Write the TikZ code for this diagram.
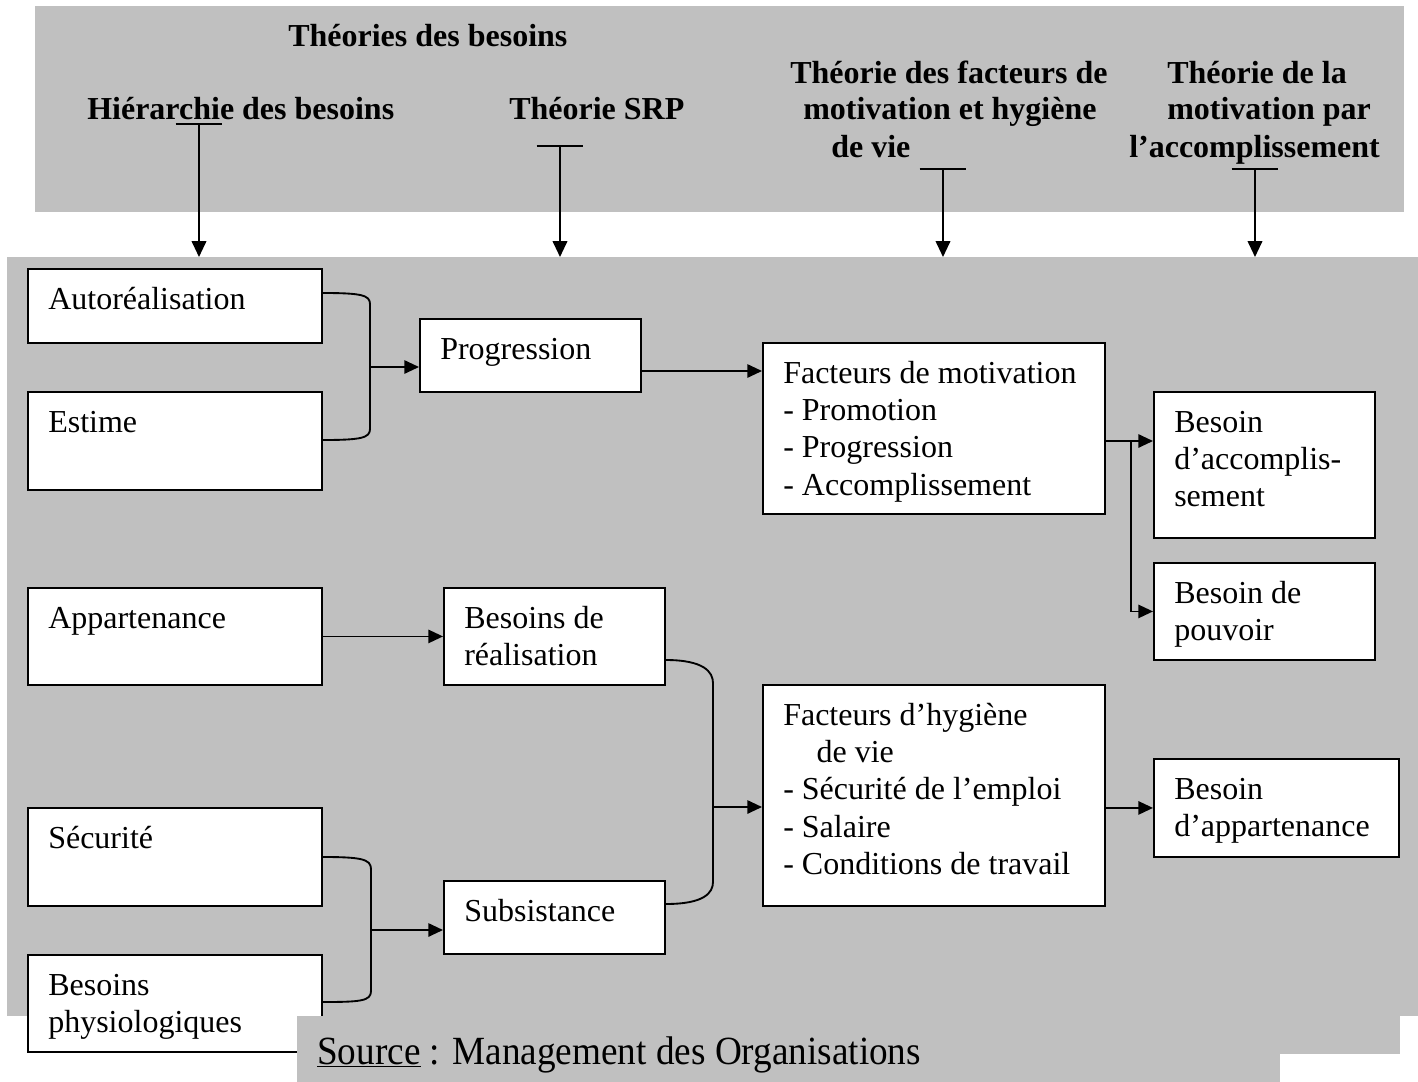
\documentclass[tikz,border=0pt]{standalone}
\usepackage{fontspec}
\setmainfont{Liberation Serif}
\newfontfamily\srcfont[FakeStretch=0.93]{Liberation Serif}
\usetikzlibrary{arrows.meta,calc}
\definecolor{bggray}{RGB}{192,192,192}
\begin{document}
\begin{tikzpicture}[x=0.75pt,y=-0.75pt,
  every node/.style={font=\fontsize{24}{28}\selectfont},
  box/.style 2 args={draw, fill=white, line width=1.4pt, anchor=north west, inner sep=0pt,
    minimum width=#1*0.75pt, minimum height=#2*0.75pt},
  txt/.style={anchor=north west, align=left, inner sep=0pt, xshift=15.75pt, yshift=-11.15pt},
  hdr/.style={anchor=base west, inner sep=0pt, font=\fontsize{24}{28}\selectfont\bfseries},
  conn/.style={line width=1.4pt},
  arr/.style={conn, -{Triangle[length=11pt,width=10pt]}},
  tarr/.style={conn, {Bar[width=35pt]}-{Triangle[length=12pt,width=11pt]}},
]
\useasboundingbox (0,0) rectangle (1418,1082);

% backgrounds
\fill[bggray] (35,6) rectangle (1404,212);
\fill[bggray] (7,257) rectangle (1418,1016);

% header texts
\node[hdr] (h0) at (288,46) {Théories des besoins};
\node[hdr] (h1) at (87,119) {Hiérarchie des besoins};
\node[hdr] (h2) at (509,119) {Théorie SRP};
\node[hdr] (h3a) at (790,83) {Théorie des facteurs de};
\node[hdr] (h3b) at (803,119) {motivation et hygiène};
\node[hdr] (h3c) at (831,157) {de vie};
\node[hdr] (h4a) at (1167,83) {Théorie de la};
\node[hdr] (h4b) at (1167,119) {motivation par};
\node[hdr] (h4c) at (1129,157) {l’accomplissement};

% top arrows
\coordinate (ta) at (199,123); \coordinate (ea) at (199,257);
\coordinate (tb) at (560,145); \coordinate (eb) at (560,257);
\coordinate (tc) at (943,168); \coordinate (ec) at (943,257);
\coordinate (td) at (1255,168); \coordinate (ed) at (1255,257);
\draw[tarr] (ta) -- (ea);
\draw[tarr] (tb) -- (eb);
\draw[tarr] (tc) -- (ec);
\draw[tarr] (td) -- (ed);

% boxes
\node[box={294}{74}] (auto) at (27,268) {};
\node[box={294}{98}] (estime) at (27,391) {};
\node[box={221}{73}] (prog) at (419,318) {};
\node[box={342}{171}] (fmot) at (762,342) {};
\node[box={221}{146}] (bacc) at (1153,391) {};
\node[box={221}{97}] (bpouv) at (1153,562) {};
\node[box={294}{97}] (appart) at (27,587) {};
\node[box={221}{97}] (breal) at (443,587) {};
\node[box={342}{221}] (fhyg) at (762,684) {};
\node[box={245}{98}] (bapp) at (1153,758) {};
\node[box={294}{98}] (secu) at (27,807) {};
\node[box={221}{73}] (subs) at (443,880) {};
\node[box={294}{97}] (physio) at (27,954) {};

% box texts
\node[txt] (autoT) at (auto.north west) {\strut Autoréalisation};
\node[txt] (estimeT) at (estime.north west) {\strut Estime};
\node[txt] (progT) at (prog.north west) {\strut Progression};
\node[txt] (fmotT) at (fmot.north west) {\strut Facteurs de motivation\\- Promotion\\- Progression\\- Accomplissement};
\node[txt] (baccT) at (bacc.north west) {\strut Besoin\\d’accomplis-\\sement};
\node[txt] (bpouvT) at (bpouv.north west) {\strut Besoin de\\pouvoir};
\node[txt] (appartT) at (appart.north west) {\strut Appartenance};
\node[txt] (brealT) at (breal.north west) {\strut Besoins de\\réalisation};
\node[txt] (fhygT) at (fhyg.north west) {\strut Facteurs d’hygiène\\\hspace*{25pt}de vie\\- Sécurité de l’emploi\\- Salaire\\- Conditions de travail};
\node[txt] (bappT) at (bapp.north west) {\strut Besoin\\d’appartenance};
\node[txt] (secuT) at (secu.north west) {\strut Sécurité};
\node[txt] (subsT) at (subs.north west) {\strut Subsistance};
\node[txt] (physioT) at (physio.north west) {\strut Besoins\\physiologiques};

% brace 1
\coordinate (j1) at (370,367);
\draw[conn] ($(auto.north east)+(0,25)$) .. controls +(38,0) and +(0,-9) .. (j1 |- 0,304)
  -- (j1 |- 0,429) .. controls +(0,9) and +(38,0) .. ($(estime.north east)+(0,49)$);
\draw[arr] (j1) -- (j1 -| prog.west);

% prog -> fmot
\coordinate (p1) at ($(prog.north east)+(0,53)$);
\draw[arr] (p1) -- (p1 -| fmot.west);

% fmot -> bacc, bpouv
\coordinate (f1) at ($(fmot.north east)+(0,99)$);
\coordinate (f2) at ($(f1)+(25,0)$);
\draw[arr] (f1) -- (f1 -| bacc.west);
\draw[arr] (f2) |- (bpouv.west);

% appart -> breal
\draw[arr] (appart.east) -- (breal.west);

% brace 2
\coordinate (j2) at (713,807);
\draw[conn] ($(breal.north east)+(0,73)$) .. controls +(38,0) and +(0,-11) .. (j2 |- 0,683)
  -- (j2 |- 0,882) .. controls +(0,11) and +(38,0) .. ($(subs.north east)+(0,24)$);
\draw[arr] (j2) -- (j2 -| fhyg.west);

% fhyg -> bapp
\draw[arr] (bapp.west -| fhyg.east) -- (bapp.west);

% brace 3
\coordinate (j3) at (371,930);
\draw[conn] ($(secu.north east)+(0,50)$) .. controls +(38,0) and +(0,-10) .. (j3 |- 0,869)
  -- (j3 |- 0,991) .. controls +(0,10) and +(38,0) .. ($(physio.north east)+(0,48)$);
\draw[arr] (j3) -- (j3 -| subs.west);

% source
\fill[bggray] (297,1016) rectangle (1400,1054);
\fill[bggray] (297,1054) rectangle (1280,1082);
\node[anchor=base west, inner sep=0pt, font=\srcfont\fontsize{30}{34}\selectfont] (src) at (317,1064)
  {\underline{Source} : Management des Organisations};
\end{tikzpicture}
\end{document}
